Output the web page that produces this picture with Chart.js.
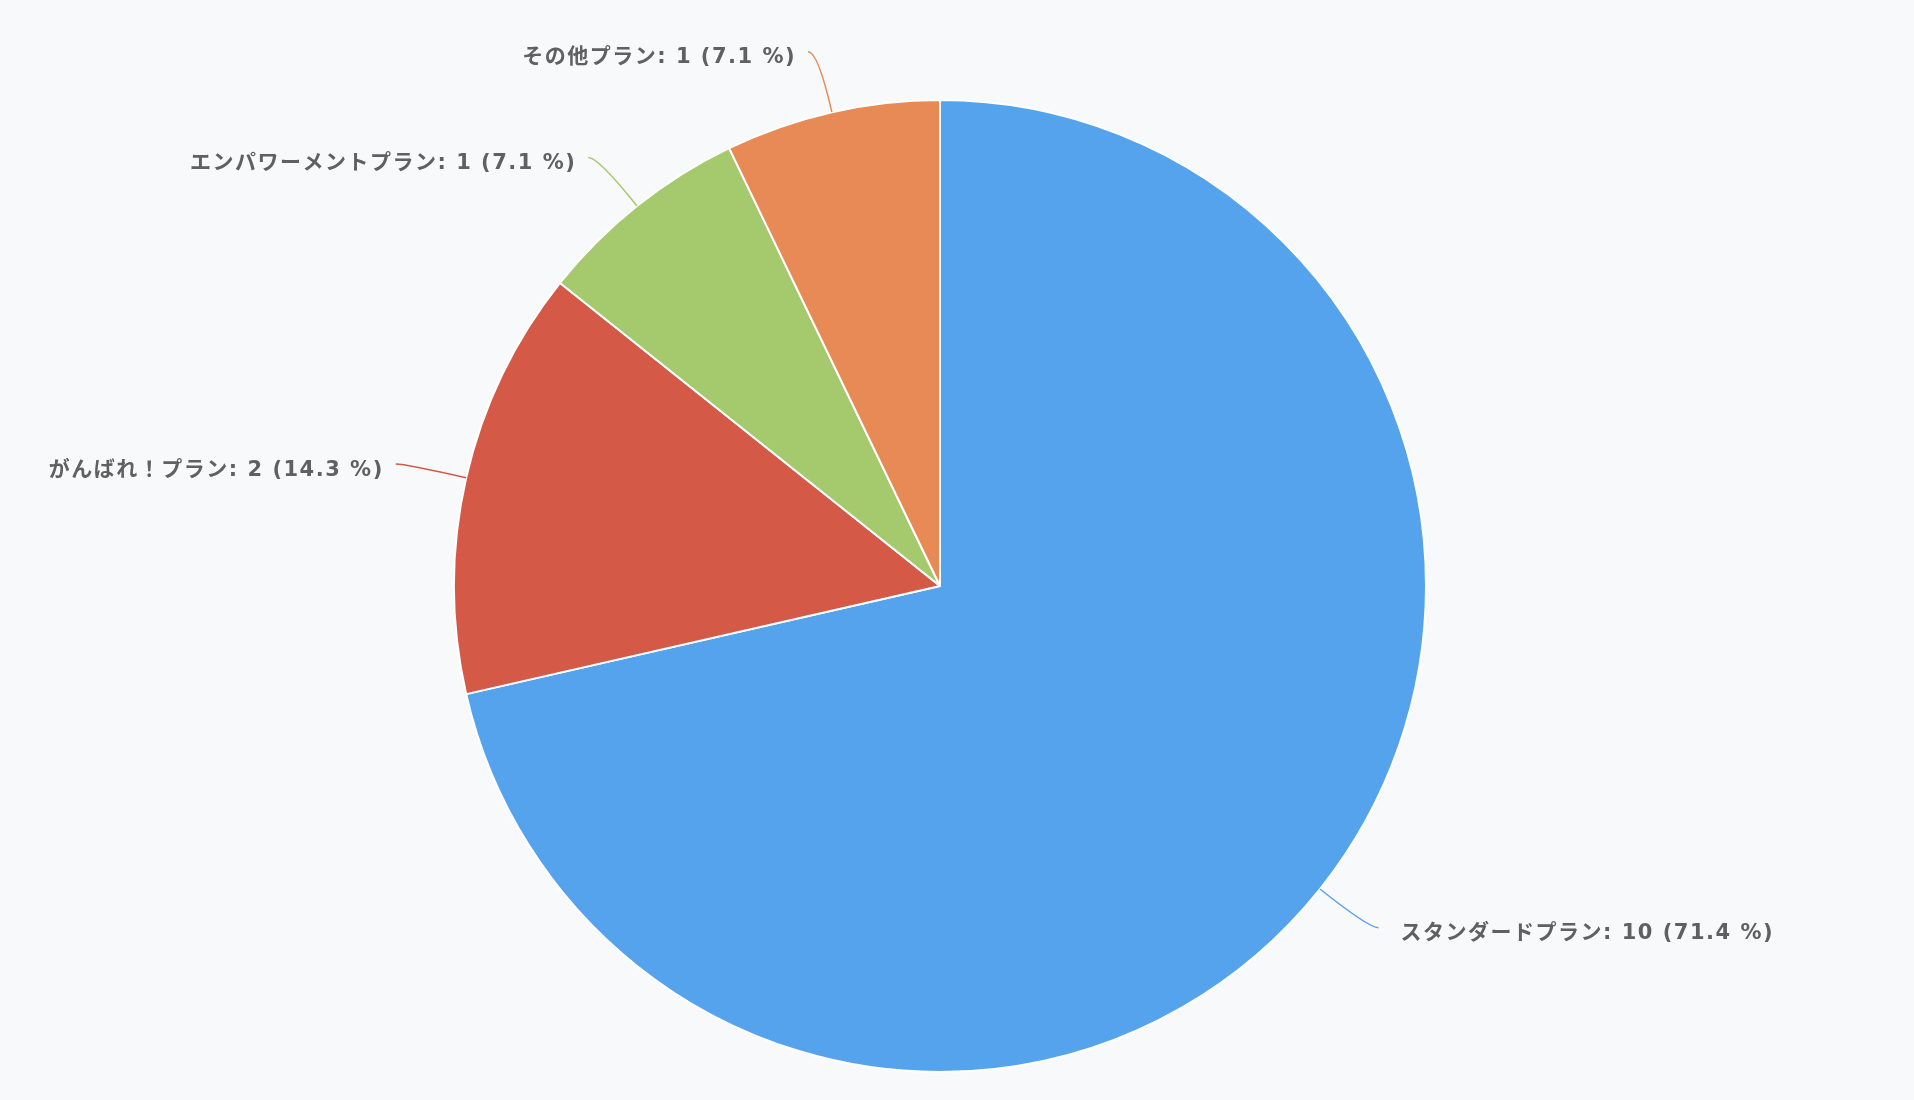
<!DOCTYPE html>
<html>
<head>
<meta charset="utf-8">
<script src="https://cdn.jsdelivr.net/npm/chart.js@4/dist/chart.umd.min.js"></script>
<style>
  html, body { margin: 0; padding: 0; background: #f8f9fa; }
  #wrap { width: 1914px; height: 1100px; }
</style>
</head>
<body>
<div id="wrap"><canvas id="c"></canvas></div>
<script>
// plan names and counts, clockwise from 12 o'clock
const plans = ['スタンダードプラン', 'がんばれ！プラン', 'エンパワーメントプラン', 'その他プラン'];
const counts = [10, 2, 1, 1];
const sliceColors = ['#55a3ec', '#d55947', '#a5ca6e', '#e88a55'];

const total = counts.reduce((a, b) => a + b, 0);

// outside labels with curved leader lines
const outsideLabels = {
  id: 'outsideLabels',
  afterDraw(chart) {
    const ctx = chart.ctx;
    const meta = chart.getDatasetMeta(0);
    ctx.save();
    ctx.font = 'bold 21px "DejaVu Sans", "Noto Sans CJK JP", sans-serif';
    ctx.letterSpacing = '1.5px';
    ctx.textBaseline = 'middle';
    meta.data.forEach((arc, i) => {
      const p = arc.getProps(['x', 'y', 'startAngle', 'endAngle', 'outerRadius'], true);
      const mid = (p.startAngle + p.endAngle) / 2;
      const cos = Math.cos(mid), sin = Math.sin(mid);
      const side = cos >= 0 ? 1 : -1;
      const x0 = p.x + cos * p.outerRadius, y0 = p.y + sin * p.outerRadius;
      const rr = p.outerRadius + 62;
      const cx = p.x + cos * rr, cy = p.y + sin * rr;
      const ex = cx + side * 10, ey = cy;

      ctx.beginPath();
      ctx.moveTo(x0, y0);
      ctx.quadraticCurveTo(cx, cy, ex, ey);
      ctx.strokeStyle = sliceColors[i];
      ctx.lineWidth = 1.5;
      ctx.stroke();

      const pct = (counts[i] / total * 100).toFixed(1);
      const txt = plans[i] + ': ' + counts[i] + ' (' + pct + ' %)';
      ctx.fillStyle = '#606060';
      ctx.textAlign = side > 0 ? 'left' : 'right';
      ctx.fillText(txt, ex + (side > 0 ? 22 : -12), ey + 6);
    });
    ctx.restore();
  }
};

new Chart(document.getElementById('c'), {
  type: 'pie',
  data: {
    labels: plans,
    datasets: [{
      data: counts,
      backgroundColor: sliceColors,
      borderColor: '#ffffff',
      borderWidth: 2
    }]
  },
  options: {
    responsive: true,
    maintainAspectRatio: false,
    animation: false,
    radius: 486,
    layout: { padding: { left: 0, right: 34, top: 72, bottom: 0 } },
    plugins: {
      legend: { display: false },
      tooltip: { enabled: false }
    }
  },
  plugins: [outsideLabels]
});
</script>
</body>
</html>
